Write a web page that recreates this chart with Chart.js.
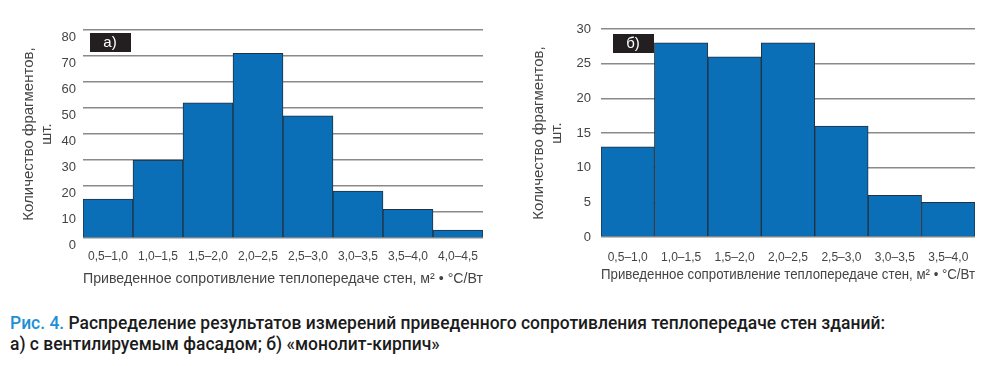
<!DOCTYPE html>
<html lang="ru">
<head>
<meta charset="utf-8">
<title>Рис. 4</title>
<script src="https://cdn.jsdelivr.net/npm/chart.js@4.4.1/dist/chart.umd.min.js"></script>
<style>
  html, body { margin: 0; padding: 0; background: #fff; }
  body { width: 1000px; height: 366px; position: relative; overflow: hidden; }
  canvas { position: absolute; top: 0; }
  #chartA { left: 0; }
  #chartB { left: 500px; }
  .caption {
    position: absolute; left: 10px; top: 312px;
    font-family: Roboto, "Liberation Sans", sans-serif;
    font-size: 18px; line-height: 21px; color: #1b1b1b; font-weight: 500;
    transform-origin: 0 0; white-space: nowrap;
  }
  .caption .fig { color: #1e8fd5; }
</style>
</head>
<body>
<canvas id="chartA" width="500" height="300"></canvas>
<canvas id="chartB" width="500" height="300"></canvas>
<div class="caption" id="caption">
  <div id="capLine1"><span class="fig">Рис. 4.</span> Распределение результатов измерений приведенного сопротивления теплопередаче стен зданий:</div>
  <div>а) с вентилируемым фасадом; б) «монолит-кирпич»</div>
</div>
<script>
(function () {
  'use strict';

  /* ---------------- Data ---------------- */
  var binsA = ['0,5–1,0', '1,0–1,5', '1,5–2,0', '2,0–2,5', '2,5–3,0', '3,0–3,5', '3,5–4,0', '4,0–4,5'];
  var countsA = [15, 30, 52, 71, 47, 18, 11, 3];
  var binsB = ['0,5–1,0', '1,0–1,5', '1,5–2,0', '2,0–2,5', '2,5–3,0', '3,0–3,5', '3,5–4,0'];
  var countsB = [13, 28, 26, 28, 16, 6, 5];
  var yMaxA = 80, yStepA = 10;
  var yMaxB = 30, yStepB = 5;

  var xTitle = 'Приведенное сопротивление теплопередаче стен, м\u00B2 • °С/Вт';
  var yTitle = ['Количество фрагментов,', 'шт.'];

  /* ---------------- Caption: squeeze to the condensed width of the original ---------------- */
  var cap = document.getElementById('caption');
  var line1 = document.getElementById('capLine1');
  var capW = line1.getBoundingClientRect().width;
  if (capW > 0) cap.style.transform = 'scaleX(' + (875 / capW) + ')';

  /* ---------------- Styling ---------------- */
  var barBlue = '#0b6fb8';
  var barEdge = '#23303d';
  var gridGray = '#8a8a8a';
  var textGray = '#444';
  var fontFamily = "'Liberation Sans', Arial, sans-serif";

  Chart.defaults.font.family = fontFamily;
  Chart.defaults.color = textGray;

  // black tag with the panel letter in the top-left corner of the plot
  var panelTag = {
    id: 'panelTag',
    afterDraw: function (chart, args, opts) {
      var ctx = chart.ctx;
      var a = chart.chartArea;
      var x = a.left + opts.dx, y = a.top + opts.dy;
      ctx.save();
      ctx.fillStyle = '#231f20';
      ctx.fillRect(x, y, 41, 19);
      ctx.fillStyle = '#fff';
      ctx.font = "15px " + fontFamily;
      ctx.textAlign = 'center';
      ctx.textBaseline = 'middle';
      ctx.fillText(opts.text, x + 20, y + 10);
      ctx.restore();
    }
  };

  function makeChart(id, bins, counts, yMax, yStep, cfg) {
    return new Chart(document.getElementById(id), {
      type: 'bar',
      data: {
        labels: bins,
        datasets: [{
          data: counts,
          backgroundColor: barBlue,
          borderColor: barEdge,
          borderWidth: 1,
          categoryPercentage: 1,
          barPercentage: 1
        }]
      },
      plugins: [panelTag],
      options: {
        responsive: false,
        animation: false,
        layout: { padding: { left: 0, right: cfg.padRight, top: cfg.padTop, bottom: 0 } },
        plugins: {
          legend: { display: false },
          tooltip: { enabled: false },
          panelTag: { text: cfg.tag, dx: cfg.tagDx, dy: cfg.tagDy }
        },
        scales: {
          x: {
            grid: { display: false, drawTicks: false },
            border: { display: false },
            ticks: { padding: cfg.xTickPad, font: { size: 12 }, maxRotation: 0, autoSkip: false },
            title: {
              display: true, text: xTitle, font: { size: 15 },
              padding: { top: 0, bottom: cfg.xTitlePad }
            },
            afterFit: function (s) { s.height = cfg.xHeight; }
          },
          y: {
            min: 0, max: yMax,
            grid: { color: gridGray, lineWidth: 1.4, drawTicks: false },
            border: { display: false },
            ticks: { stepSize: yStep, padding: cfg.yTickPad, labelOffset: cfg.yLabelOffset, font: { size: 13 } },
            title: {
              display: true, text: yTitle, font: { size: 15 }, lineHeight: 1,
              padding: { top: cfg.yTitlePad, bottom: 0 }
            },
            afterFit: function (s) { s.width = cfg.yWidth; }
          }
        }
      }
    });
  }

  /* ---- а) ventilated facade ---- */
  makeChart('chartA', binsA, countsA, yMaxA, yStepA, {
    padRight: 17, padTop: 30, xHeight: 62, yWidth: 83,
    xTickPad: 11, xTitlePad: 12, yTitlePad: 20, yTickPad: 7, yLabelOffset: 7,
    tag: 'а)', tagDx: 7, tagDy: 3
  });

  /* ---- б) monolith-brick ---- */
  makeChart('chartB', binsB, countsB, yMaxB, yStepB, {
    padRight: 25, padTop: 29, xHeight: 63, yWidth: 101,
    xTickPad: 13, xTitlePad: 16, yTitlePad: 30, yTickPad: 10, yLabelOffset: 0,
    tag: 'б)', tagDx: 12, tagDy: 5
  });
})();
</script>
</body>
</html>
